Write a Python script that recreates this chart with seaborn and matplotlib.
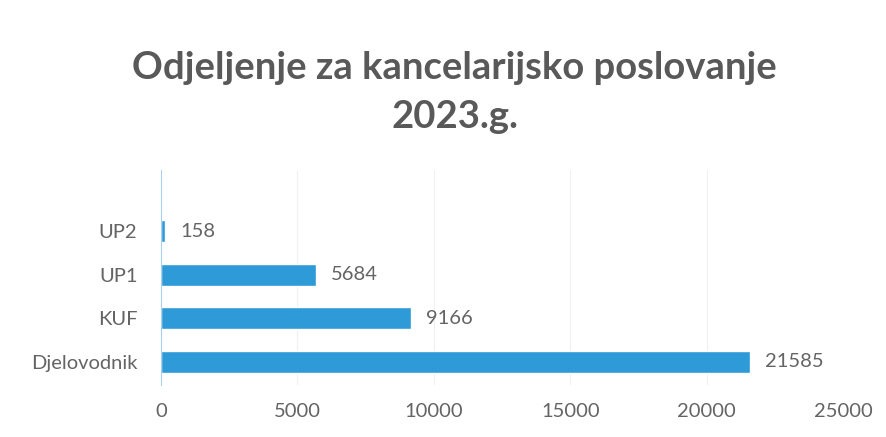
import matplotlib
matplotlib.use("Agg")
import matplotlib.pyplot as plt
import seaborn as sns
import pandas as pd

categories = ["UP2", "UP1", "KUF", "Djelovodnik"]
values = [158, 5684, 9166, 21585]
x_ticks = [0, 5000, 10000, 15000, 20000, 25000]
title = "Odjeljenje za kancelarijsko poslovanje\n2023.g."

bar_color = "#2E9BD8"
text_color = "#595959"
label_color = "#646464"

sns.set_theme(style="white")
plt.rcParams["font.family"] = ["Lato", "DejaVu Sans"]

df = pd.DataFrame({"kategorija": categories, "broj": values})

fig = plt.figure(figsize=(8.86, 4.37), dpi=100)
ax = fig.add_axes([0.1817, 0.119, 0.7698, 0.492])

sns.barplot(data=df, x="broj", y="kategorija", order=categories,
            color=bar_color, width=0.5, saturation=1, ax=ax)

ax.set_xlim(0, 25000)
ax.set_ylim(3.53, -1.4)
ax.set_xticks(x_ticks)
ax.set_xticklabels([str(t) for t in x_ticks])
ax.set_xlabel("")
ax.set_ylabel("")

ax.grid(axis="x", color="#F0F0F0", linewidth=0.8)
ax.set_axisbelow(True)
for s in ["top", "right", "bottom"]:
    ax.spines[s].set_visible(False)
ax.spines["left"].set_color("#A9CFEE")
ax.spines["left"].set_linewidth(0.8)

ax.tick_params(axis="both", length=0, colors=label_color, labelsize=14.5)
ax.tick_params(axis="x", pad=13)
ax.tick_params(axis="y", pad=17)

for c in ax.containers:
    ax.bar_label(c, labels=[str(v) for v in values], padding=11,
                 color=label_color, fontsize=14.5)

fig.text(0.513, 0.788, title, ha="center", va="center", fontsize=27.5,
         fontweight="bold", color=text_color, linespacing=1.55)

fig.savefig("out.png", dpi=100, facecolor="white")
